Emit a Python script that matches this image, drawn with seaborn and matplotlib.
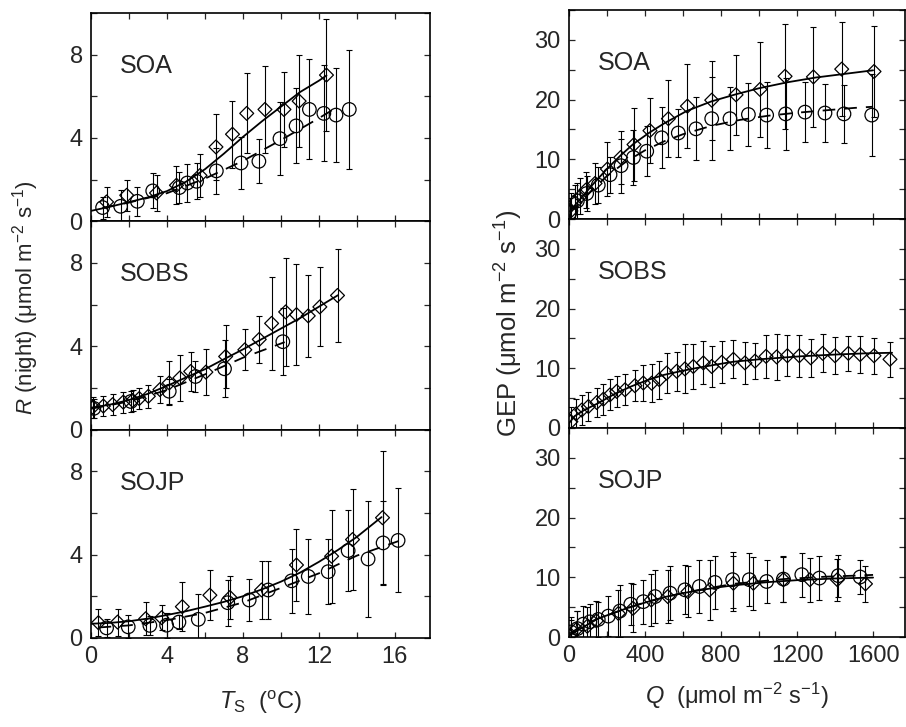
import numpy as np
import matplotlib
matplotlib.use("Agg")
import matplotlib.pyplot as plt
from matplotlib.ticker import MultipleLocator
import seaborn as sns

sns.set_style("ticks")
plt.rcParams["font.family"] = ["Liberation Sans", "DejaVu Sans"]
plt.rcParams["mathtext.fontset"] = "custom"
plt.rcParams["mathtext.rm"] = "Liberation Sans"
plt.rcParams["mathtext.it"] = "Liberation Sans:italic"

# ---- R(night) vs soil temperature ----
# SOA
soa_ts_d = [0.82, 1.88, 3.45, 4.5, 5.74, 6.58, 7.45, 8.2, 9.16, 10.16, 10.96, 12.4]
soa_r_d = [0.93, 1.25, 1.36, 1.73, 2.2, 3.57, 4.18, 5.18, 5.37, 5.37, 5.77, 7.02]
soa_r_d_err = [0.72, 0.74, 0.85, 0.92, 1.04, 1.57, 1.6, 1.92, 2.1, 1.8, 2.2, 2.7]
soa_ts_c = [0.61, 1.56, 2.44, 3.25, 4.65, 5.07, 5.56, 6.6, 7.9, 8.84, 9.95, 10.8, 11.5, 12.26, 12.9, 13.6]
soa_r_c = [0.66, 0.72, 0.96, 1.46, 1.62, 1.84, 1.92, 2.42, 2.8, 2.88, 3.97, 4.58, 5.37, 5.18, 5.1, 5.37]
soa_r_c_err = [0.53, 0.76, 0.69, 0.84, 0.74, 0.9, 0.87, 1.1, 1.25, 1.06, 1.76, 1.8, 2.4, 2.3, 2.26, 2.85]
soa_ts_fit = [0, 1, 2, 3, 4, 5, 6, 7, 8, 9, 10, 11, 12, 12.4]
soa_r_fit = [0.5, 0.7, 0.92, 1.15, 1.45, 1.9, 2.5, 3.25, 4.05, 4.8, 5.5, 6.2, 6.75, 7.0]
soa_ts_fit2 = [0.6, 2, 4, 6, 8, 10, 12, 12.9]
soa_r_fit2 = [0.65, 0.9, 1.35, 2.05, 2.9, 3.9, 4.95, 5.45]

# SOBS
sobs_ts_d = [0.09, 0.65, 1.14, 1.7, 2.19, 2.54, 3.02, 3.63, 4.12, 4.68, 5.25, 6.05, 7.09,
             8.1, 8.86, 9.51, 10.25, 10.82, 11.44, 12.05, 12.98]
sobs_r_d = [1.08, 1.13, 1.2, 1.32, 1.4, 1.49, 1.6, 1.92, 2.24, 2.48, 2.79, 2.76, 3.51,
            3.83, 4.33, 5.1, 5.65, 5.52, 5.46, 5.89, 6.44]
sobs_r_d_err = [0.5, 0.5, 0.5, 0.5, 0.5, 0.5, 0.55, 0.63, 1.06, 1.1, 0.95, 1.1, 1.5,
                0.98, 1.13, 2.24, 2.6, 2.43, 1.97, 1.9, 2.24]
sobs_ts_c = [0.15, 2.1, 4.12, 5.5, 7.03, 10.1]
sobs_r_c = [1.02, 1.35, 1.84, 2.55, 2.92, 4.22]
sobs_r_c_err = [0.45, 0.5, 0.6, 0.73, 1.37, 1.6]
sobs_ts_fit = [0, 1, 2, 3, 4, 5, 6, 7, 8, 9, 10, 11, 12, 13]
sobs_r_fit = [1.05, 1.2, 1.42, 1.72, 2.1, 2.5, 2.9, 3.38, 3.85, 4.35, 4.85, 5.35, 5.9, 6.45]
sobs_ts_fit2 = [0, 2, 4, 6, 8, 10.2]
sobs_r_fit2 = [1.0, 1.35, 1.9, 2.65, 3.45, 4.2]

# SOJP
sojp_ts_d = [0.39, 1.4, 2.88, 3.72, 4.81, 6.26, 7.32, 8.98, 10.82, 12.67, 13.77, 15.35]
sojp_r_d = [0.73, 0.76, 0.92, 0.97, 1.5, 2.05, 1.94, 2.3, 3.5, 3.92, 4.72, 5.77]
sojp_r_d_err = [0.65, 0.65, 0.78, 0.6, 1.18, 1.2, 1.05, 1.37, 1.73, 2.24, 2.43, 3.2]
sojp_ts_c = [0.82, 1.96, 3.1, 3.98, 4.63, 5.65, 7.2, 8.33, 9.33, 10.56, 11.44, 12.49,
             13.54, 14.59, 15.38, 16.17]
sojp_r_c = [0.48, 0.53, 0.6, 0.61, 0.76, 0.89, 1.69, 1.82, 2.3, 2.74, 2.95, 3.18,
            4.19, 3.79, 4.56, 4.68]
sojp_r_c_err = [0.45, 0.55, 0.45, 0.6, 0.35, 1.2, 1.1, 1.0, 1.38, 1.53, 1.8, 1.55,
                1.93, 2.78, 2.0, 2.5]
sojp_ts_fit = [0, 1, 2, 3, 4, 5, 6, 7, 8, 9, 10, 11, 12, 13, 14, 15.3]
sojp_r_fit = [0.68, 0.72, 0.8, 0.93, 1.1, 1.28, 1.5, 1.73, 2.0, 2.33, 2.7, 3.13, 3.65, 4.22, 4.85, 5.8]
sojp_ts_fit2 = [0.4, 2, 4, 6, 8, 10, 12, 14, 16.2]
sojp_r_fit2 = [0.5, 0.6, 0.85, 1.2, 1.7, 2.4, 3.1, 3.95, 4.65]

# ---- GEP vs PAR ----
# SOA
soa_q_d = [10, 32, 60, 88, 137, 202, 272, 342, 426, 523, 623, 751, 879, 1005, 1137, 1286, 1435, 1605]
soa_gep_d = [1.35, 2.75, 3.8, 4.83, 5.96, 8.37, 10.3, 12.47, 14.8, 16.8, 18.9, 19.9, 20.8,
             21.7, 23.9, 23.8, 25.1, 24.7]
soa_gep_d_err = [3, 3, 3, 3, 3.5, 4.6, 4.5, 6.1, 5.4, 6.4, 7.0, 6.6, 6.7, 8.0, 8.8, 8.4, 7.9, 7.7]
soa_q_c = [5, 44, 93, 154, 216, 274, 339, 409, 488, 575, 668, 751, 847, 944, 1040, 1140,
           1242, 1347, 1447, 1593]
soa_gep_c = [1.07, 3.03, 4.27, 5.67, 7.42, 8.93, 10.3, 11.35, 13.6, 14.4, 15.1, 16.8, 16.8,
             17.5, 17.4, 17.6, 17.9, 17.75, 17.6, 17.4]
soa_gep_c_err = [2.5, 3, 3, 3, 3, 4.5, 4.6, 4.2, 5.1, 4.0, 5.3, 7.0, 5.3, 5.3, 5.5, 6.0,
                 5.0, 4.8, 4.8, 6.8]
soa_q_fit = [5, 50, 120, 200, 270, 340, 420, 500, 620, 750, 880, 1000, 1150, 1300, 1450, 1600]
soa_gep_fit = [1.3, 3.0, 5.6, 8.4, 10.6, 12.6, 14.4, 16.0, 18.1, 19.7, 20.9, 21.9, 22.9,
               23.7, 24.3, 24.9]
soa_q_fit2 = [5, 100, 200, 300, 400, 500, 600, 750, 900, 1050, 1200, 1350, 1500, 1600]
soa_gep_fit2 = [1.0, 4.2, 7.2, 9.6, 11.5, 13.0, 14.2, 15.6, 16.6, 17.3, 17.8, 18.2, 18.6, 18.8]

# SOBS
sobs_q_d = [10, 37, 67, 102, 146, 181, 216, 251, 295, 347, 391, 435, 475, 514, 567, 610,
            654, 707, 751, 804, 865, 926, 979, 1037, 1093, 1149, 1212, 1272, 1335, 1400,
            1470, 1532, 1605, 1689]
sobs_gep_d = [1.07, 2.36, 3.0, 3.6, 4.27, 4.83, 5.56, 6.13, 6.4, 7.08, 7.53, 7.5, 8.1,
              9.2, 9.5, 9.9, 10.3, 10.9, 10.3, 11.0, 11.5, 10.9, 11.2, 12.0, 11.9, 12.1,
              12.1, 11.75, 12.5, 12.1, 12.5, 12.3, 12.1, 11.5]
sobs_gep_d_err = [2.5, 2.5, 2.5, 2.5, 2.5, 2.6, 2.6, 2.6, 2.6, 2.6, 3.0, 3.2, 3.2, 3.3,
                  3.3, 4.1, 3.8, 3.6, 3.5, 3.5, 3.2, 3.5, 3.0, 3.6, 3.8, 3.4, 3.5, 3.2,
                  3.2, 3.1, 2.95, 3.1, 3.0, 2.95]
sobs_q_fit = [0, 30, 80, 150, 240, 330, 420, 500, 600, 680, 770, 865, 1000, 1216, 1400, 1560, 1700]
sobs_gep_fit = [0.8, 2.0, 3.0, 4.1, 5.7, 7.0, 8.1, 8.9, 9.6, 10.1, 10.6, 11.1, 11.5,
                12.0, 12.3, 12.5, 12.6]

# SOJP
sojp_q_d = [10, 40, 96, 144, 260, 337, 433, 520, 626, 740, 865, 970, 1128, 1268, 1412, 1560]
sojp_gep_d = [0.3, 1.3, 1.8, 2.7, 3.95, 4.8, 6.2, 6.77, 7.6, 7.9, 9.0, 9.0, 9.6, 9.6, 9.6, 8.9]
sojp_gep_d_err = [2.5, 3, 3.2, 3.3, 4.0, 4.0, 4.4, 4.5, 4.3, 5.0, 4.6, 4.4, 3.8, 3.7, 3.5, 3.0]
sojp_q_c = [10, 44, 75, 110, 154, 207, 268, 325, 391, 453, 532, 610, 686, 768, 861, 949,
            1040, 1128, 1225, 1318, 1417, 1532]
sojp_gep_c = [0.85, 1.4, 2.15, 2.54, 2.94, 3.5, 4.35, 5.48, 5.92, 6.77, 7.34, 7.9, 8.46,
              9.14, 9.6, 9.6, 9.3, 9.7, 10.44, 9.87, 10.27, 10.05]
sojp_gep_c_err = [2.5, 3, 3, 3, 3, 3.3, 4.4, 3.5, 3.7, 4.4, 4.5, 4.1, 4.5, 4.4, 4.7, 4.4,
                  3.6, 3.8, 3.7, 3.7, 3.5, 2.8]
sojp_q_fit = [5, 50, 154, 250, 330, 420, 505, 600, 681, 770, 865, 1050, 1216, 1400, 1600]
sojp_gep_fit = [0.3, 1.2, 3.1, 4.2, 5.1, 5.95, 6.7, 7.35, 7.8, 8.25, 8.65, 9.2, 9.55, 9.8, 9.95]
sojp_q_fit2 = [5, 75, 154, 268, 391, 532, 686, 865, 1130, 1350, 1500, 1600]
sojp_gep_fit2 = [0.6, 2.0, 3.1, 4.4, 5.7, 6.9, 7.9, 8.9, 9.7, 10.1, 10.27, 10.4]

sites = ["SOA", "SOBS", "SOJP"]
FS = 17


def draw_series(ax, x, y, err, marker, size):
    ax.errorbar(x, y, yerr=err, fmt="none", ecolor="black", elinewidth=0.8,
                capsize=2.2, capthick=0.8, zorder=2)
    sns.scatterplot(x=x, y=y, ax=ax, marker=marker, s=size, facecolor="none",
                    edgecolor="black", linewidth=0.9, zorder=3)


def draw_fit(ax, x, y, dashed=False):
    ls = (0, (7, 5)) if dashed else "-"
    sns.lineplot(x=x, y=y, ax=ax, color="black", lw=1.3, linestyle=ls, zorder=4)


fig = plt.figure(figsize=(9.06, 7.27), dpi=100)
W, H = 906.0, 727.0

left_panels = [
    (soa_ts_d, soa_r_d, soa_r_d_err, soa_ts_c, soa_r_c, soa_r_c_err,
     (soa_ts_fit, soa_r_fit), (soa_ts_fit2, soa_r_fit2)),
    (sobs_ts_d, sobs_r_d, sobs_r_d_err, sobs_ts_c, sobs_r_c, sobs_r_c_err,
     (sobs_ts_fit, sobs_r_fit), (sobs_ts_fit2, sobs_r_fit2)),
    (sojp_ts_d, sojp_r_d, sojp_r_d_err, sojp_ts_c, sojp_r_c, sojp_r_c_err,
     (sojp_ts_fit, sojp_r_fit), (sojp_ts_fit2, sojp_r_fit2)),
]
right_panels = [
    (soa_q_d, soa_gep_d, soa_gep_d_err, soa_q_c, soa_gep_c, soa_gep_c_err,
     (soa_q_fit, soa_gep_fit), (soa_q_fit2, soa_gep_fit2)),
    (sobs_q_d, sobs_gep_d, sobs_gep_d_err, None, None, None,
     (sobs_q_fit, sobs_gep_fit), None),
    (sojp_q_d, sojp_gep_d, sojp_gep_d_err, sojp_q_c, sojp_gep_c, sojp_gep_c_err,
     (sojp_q_fit, sojp_gep_fit), (sojp_q_fit2, sojp_gep_fit2)),
]

for col, panels in enumerate([left_panels, right_panels]):
    if col == 0:
        x0, w, top, h = 91, 339, 13, 208.3
    else:
        x0, w, top, h = 569, 336, 10, 209
    for i, p in enumerate(panels):
        dx, dy, de, cx, cy, ce, fit1, fit2 = p
        bottom = top + (i + 1) * h
        ax = fig.add_axes([x0 / W, 1 - bottom / H, w / W, h / H])
        draw_series(ax, dx, dy, de, "D", 50)
        if cx is not None:
            draw_series(ax, cx, cy, ce, "o", 95)
        draw_fit(ax, *fit1)
        if fit2 is not None:
            draw_fit(ax, *fit2, dashed=True)

        if col == 0:
            ax.set_xlim(0, 17.85)
            ax.set_ylim(0, 10)
            ax.xaxis.set_major_locator(MultipleLocator(4))
            ax.xaxis.set_minor_locator(MultipleLocator(2))
            ax.yaxis.set_major_locator(MultipleLocator(4))
            ax.yaxis.set_minor_locator(MultipleLocator(2))
        else:
            ax.set_xlim(0, 1768)
            ax.set_ylim(0, 35)
            ax.xaxis.set_major_locator(MultipleLocator(400))
            ax.xaxis.set_minor_locator(MultipleLocator(200))
            ax.yaxis.set_major_locator(MultipleLocator(10))
            ax.yaxis.set_minor_locator(MultipleLocator(5))
        ax.tick_params(which="both", direction="in", top=True, right=True,
                       length=4.5, width=0.9, labelsize=FS, pad=6)
        ax.set_xlabel("")
        ax.set_ylabel("")
        for s in ax.spines.values():
            s.set_linewidth(1.2)
            s.set_color("black")
        if i < 2:
            ax.tick_params(labelbottom=False)
        ax.text(0.086, 0.745, sites[i], transform=ax.transAxes, fontsize=18,
                ha="left", va="center")
        if i == 2:
            if col == 0:
                ax.set_xlabel(r"$T_{\mathrm{S}}$  ($^{\mathrm{o}}$C)", fontsize=FS, labelpad=15)
            else:
                ax.set_xlabel(r"$Q$  ($\mathrm{\mu}$mol m$^{-2}$ s$^{-1}$)", fontsize=FS, labelpad=10)

fig.text(26 / W, 1 - 298 / H, r"$R$ (night) ($\mathrm{\mu}$mol m$^{-2}$ s$^{-1}$)",
         rotation=90, ha="center", va="center", fontsize=16)
fig.text(509 / W, 1 - 323 / H, r"GEP ($\mathrm{\mu}$mol m$^{-2}$ s$^{-1}$)",
         rotation=90, ha="center", va="center", fontsize=18.5)

fig.savefig("out.png", dpi=100)
